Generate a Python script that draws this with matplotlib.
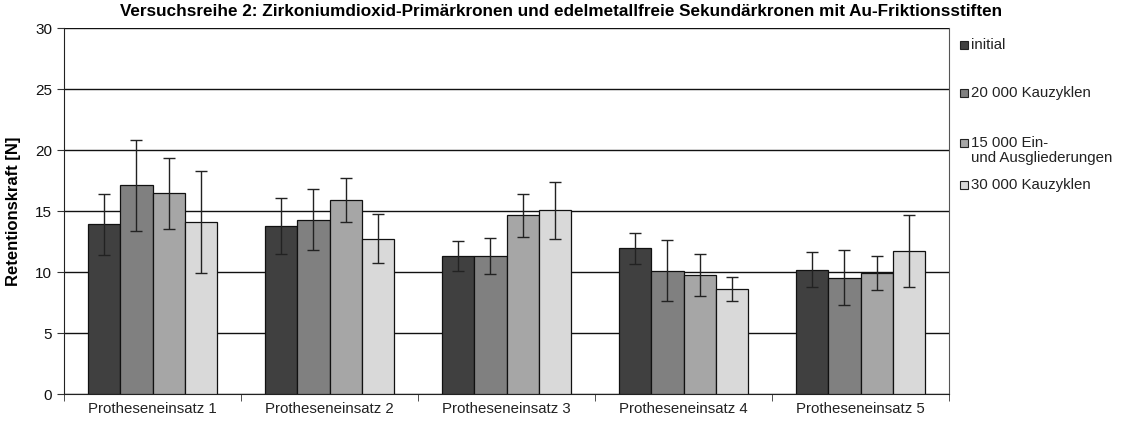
import matplotlib.pyplot as plt
import numpy as np
from matplotlib.patches import Rectangle

plt.rcParams['font.family'] = ['Liberation Sans', 'DejaVu Sans']

categories = ['Protheseneinsatz 1', 'Protheseneinsatz 2', 'Protheseneinsatz 3',
              'Protheseneinsatz 4', 'Protheseneinsatz 5']
series = ['initial', '20 000 Kauzyklen', '15 000 Ein-\nund Ausgliederungen', '30 000 Kauzyklen']
initial = [13.9, 13.8, 11.3, 11.95, 10.2]
kau20 = [17.1, 14.3, 11.3, 10.1, 9.55]
einaus15 = [16.45, 15.9, 14.65, 9.75, 9.95]
kau30 = [14.1, 12.75, 15.05, 8.6, 11.7]
err_initial = [2.5, 2.3, 1.25, 1.25, 1.45]
err_kau20 = [3.7, 2.5, 1.5, 2.5, 2.25]
err_einaus15 = [2.9, 1.8, 1.75, 1.7, 1.4]
err_kau30 = [4.2, 2.0, 2.3, 1.0, 2.95]

values = [initial, kau20, einaus15, kau30]
errors = [err_initial, err_kau20, err_einaus15, err_kau30]
colors = ['#404040', '#808080', '#a6a6a6', '#d9d9d9']

W, H = 1125, 426
fig = plt.figure(figsize=(W / 100, H / 100), dpi=100)
ax = fig.add_axes([0.0569, 0.0751, 0.7867, 0.8589])

x = np.arange(len(categories))
w = 0.182
for i, (vals, errs, c) in enumerate(zip(values, errors, colors)):
    pos = x + (i - 1.5) * w
    ax.bar(pos, vals, w, color=c, edgecolor='#111111', linewidth=0.9, zorder=3)
    ax.errorbar(pos, vals, yerr=errs, fmt='none', ecolor='#222222', elinewidth=1,
                capsize=4, capthick=1, zorder=4)

ax.set_xlim(-0.5, len(categories) - 0.5)
ax.set_ylim(0, 30)
ax.set_yticks(range(0, 31, 5))
ax.yaxis.grid(True, color='#111111', linewidth=1, zorder=0)
ax.set_xticks(x)
ax.set_xticklabels(categories, fontsize=10.8, color='#222222')
ax.set_xticks(np.arange(-0.5, len(categories)), minor=True)
ax.tick_params(axis='x', which='major', length=0, pad=6)
ax.tick_params(axis='x', which='minor', length=5, color='#333333')
ax.tick_params(axis='y', labelsize=11, length=5, color='#333333', labelcolor='#111111')
for s in ['left', 'bottom']:
    ax.spines[s].set_color('#222222')
ax.spines['top'].set_visible(False)
ax.spines['right'].set_color('#555555')
ax.spines['right'].set_linewidth(0.8)

ax.set_ylabel('Retentionskraft [N]', fontsize=12, fontweight='bold', labelpad=10)
fig.text(0.107, 0.955, 'Versuchsreihe 2: Zirkoniumdioxid-Primärkronen und edelmetallfreie '
         'Sekundärkronen mit Au-Friktionsstiften', fontsize=12.3, fontweight='bold',
         va='bottom', ha='left')

# legend, laid out like the Excel one (square next to the first text line)
leg_y = [45, 93, 143, 185]
for lab, c, yp in zip(series, colors, leg_y):
    yf = 1 - yp / H
    fig.patches.append(Rectangle((960 / W, yf - 4 / H), 8 / W, 8 / H,
                                 transform=fig.transFigure, facecolor=c,
                                 edgecolor='#222222', linewidth=0.8))
    fig.text(971 / W, yf + 7 / H, lab, fontsize=10.8, color='#222222',
             va='top', ha='left', linespacing=1.05)

fig.savefig('out.png', dpi=100)
